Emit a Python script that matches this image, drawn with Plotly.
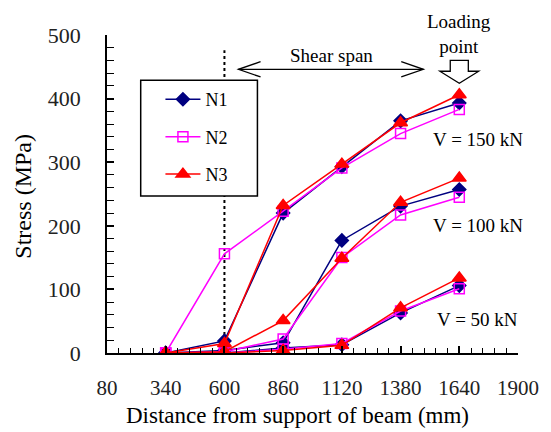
import plotly.graph_objects as go

x_pos = [340, 600, 860, 1120, 1380, 1640]

# V = 150 kN
n1_v150 = [0, 19, 220, 293, 365, 393]
n2_v150 = [0, 156, 223, 291, 345, 383]
n3_v150 = [0, 15, 232, 297, 362, 406]
# V = 100 kN
n1_v100 = [0, 4, 16, 177, 231, 257]
n2_v100 = [0, 2, 22, 150, 217, 245]
n3_v100 = [0, 2, 51, 149, 237, 275]
# V = 50 kN
n1_v50 = [0, 0, 8, 13, 63, 106]
n2_v50 = [0, 0, 6, 15, 66, 101]
n3_v50 = [0, 0, 4, 12, 71, 118]

load_labels = ["V = 150 kN", "V = 100 kN", "V = 50 kN"]
label_y = [335, 200, 52]

FONT = "'Liberation Serif', 'DejaVu Serif', serif"
styles = {
    "N1": dict(color="#000080", symbol="diamond", size=10),
    "N2": dict(color="#FF00FF", symbol="square-open", size=10),
    "N3": dict(color="#FF0000", symbol="triangle-up", size=12),
}
series = {
    "N1": [n1_v150, n1_v100, n1_v50],
    "N2": [n2_v150, n2_v100, n2_v50],
    "N3": [n3_v150, n3_v100, n3_v50],
}

fig = go.Figure()
for name in ["N1", "N2", "N3"]:
    st = styles[name]
    for i, ys in enumerate(series[name]):
        fig.add_trace(go.Scatter(
            x=x_pos, y=ys, mode="lines+markers", name=name,
            legendgroup=name, showlegend=(i == 0),
            line=dict(color=st["color"], width=1.5),
            marker=dict(symbol=st["symbol"], size=st["size"], color=st["color"],
                        line=dict(color=st["color"], width=1.5)),
        ))

# dotted vertical line at 600
fig.add_shape(type="line", x0=600, x1=600, y0=0, y1=476, xref="x", yref="y",
              line=dict(color="black", width=2, dash="dot"), layer="below")

# legend box (white, covers the dotted line)
fig.add_shape(type="rect", xref="paper", yref="paper", x0=0.082, x1=0.366, y0=0.494, y1=0.858,
              line=dict(color="black", width=1.5), fillcolor="white", layer="above")

# Shear span arrow
fig.add_shape(type="line", x0=662, x1=1481, y0=446, y1=446, xref="x", yref="y",
              line=dict(color="black", width=1.3))
for xe, xs in [(662, 760), (1481, 1383)]:
    fig.add_shape(type="path", xref="x", yref="y",
                  path=f"M {xs} {458} L {xe} {446} L {xs} {434}",
                  line=dict(color="black", width=1.3))
fig.add_annotation(x=1072, y=468, xref="x", yref="y", text="Shear span", showarrow=False,
                   font=dict(family=FONT, size=19, color="black"))

# Loading point block arrow
lp = 1640
fig.add_shape(type="path", xref="x", yref="y",
              path=(f"M {lp-40} 460 L {lp+40} 460 L {lp+40} 443 L {lp+86} 443 "
                    f"L {lp} 424 L {lp-86} 443 L {lp-40} 443 Z"),
              line=dict(color="black", width=1.3), fillcolor="white")
fig.add_annotation(x=lp, y=1.004, xref="x", yref="paper", text="Loading<br>point",
                   showarrow=False, font=dict(family=FONT, size=19, color="black"),
                   yanchor="middle")

# Load labels
for t, yv in zip(load_labels, label_y):
    fig.add_annotation(x=1722, y=yv, xref="x", yref="y", text=t, showarrow=False,
                       font=dict(family=FONT, size=19, color="black"))

# axis titles
fig.add_annotation(text="Distance from support of beam (mm)", x=0.463, y=-0.197,
                   xref="paper", yref="paper", showarrow=False,
                   font=dict(family=FONT, size=23, color="black"), yanchor="middle")
fig.add_annotation(text="Stress (MPa)", x=-0.205, y=0.494, xref="paper", yref="paper",
                   showarrow=False, textangle=-90, yanchor="middle",
                   font=dict(family=FONT, size=24, color="black"), xanchor="center")

fig.update_layout(
    width=551, height=432,
    margin=dict(l=107, r=29, t=35, b=79),
    paper_bgcolor="white", plot_bgcolor="white",
    font=dict(family=FONT, size=21, color="black"),
    showlegend=True,
    legend=dict(x=0.13, y=0.855, xanchor="left", yanchor="top",
                bgcolor="rgba(0,0,0,0)", borderwidth=0,
                font=dict(family=FONT, size=18, color="black"),
                tracegroupgap=11, itemwidth=35),
    xaxis=dict(range=[80, 1900], tick0=80, dtick=260, ticks="inside", ticklen=7,
               tickwidth=1.5, showline=True, linecolor="black", linewidth=1.5,
               showgrid=False, zeroline=False, ticklabelstandoff=15,
               minor=dict(dtick=52, tick0=80, ticks="inside", ticklen=5, tickwidth=1.3,
                          tickcolor="black"),
               tickcolor="black", tickfont=dict(family=FONT, size=21, color="#222")),
    yaxis=dict(range=[0, 500], dtick=100, ticks="inside", ticklen=7, tickwidth=1.5,
               showline=True, linecolor="black", linewidth=1.5, showgrid=False,
               zeroline=False, ticklabelstandoff=20,
               minor=dict(dtick=20, ticks="inside", ticklen=7, tickwidth=1.3,
                          tickcolor="black"),
               tickcolor="black", tickfont=dict(family=FONT, size=22, color="#222")),
)

fig.write_html("out.html", post_script="document.body.style.margin='0';",
               config={"displayModeBar": False})
